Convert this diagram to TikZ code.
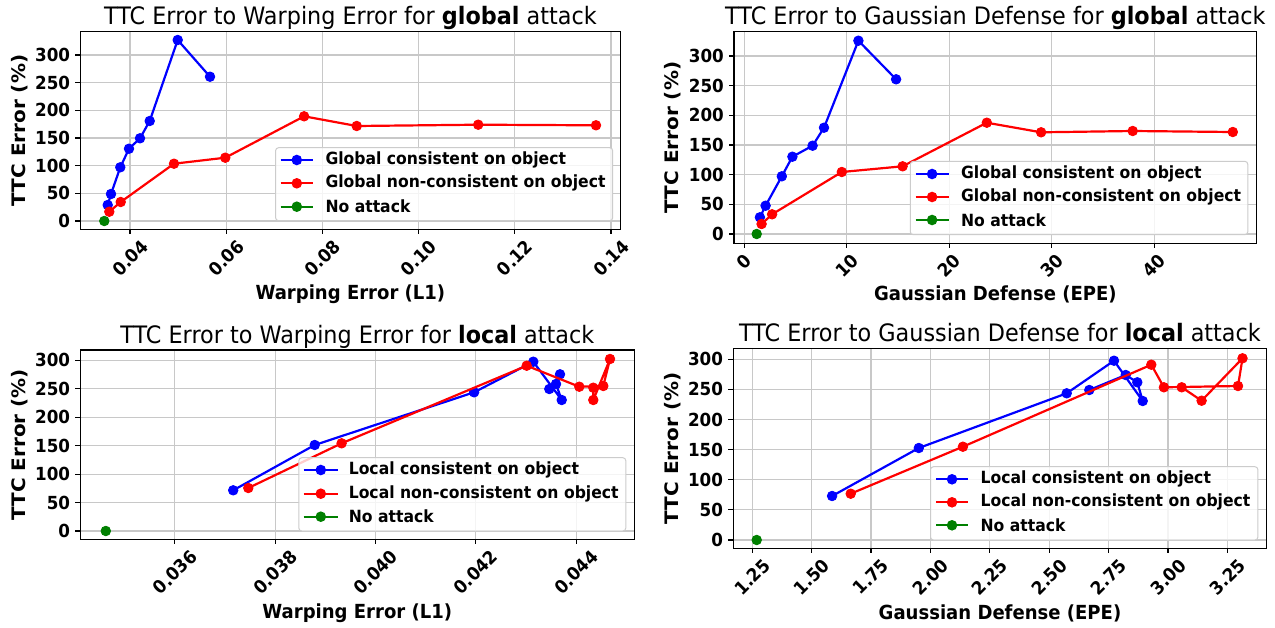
\documentclass[tikz,border=0pt]{standalone}
\usepackage{fontspec}
\setmainfont{DejaVu Sans}
\usepackage{graphicx}
\definecolor{gridc}{RGB}{200,200,200}
\definecolor{legc}{RGB}{204,204,204}
\definecolor{mblue}{RGB}{0,0,255}
\definecolor{mred}{RGB}{255,0,0}
\definecolor{mgreen}{RGB}{0,128,0}
\newcommand\hs[1]{\scalebox{0.93}[1]{#1}}
\tikzset{
  gridl/.style={draw=gridc, line width=1.1pt},
  spine/.style={draw=black, line width=1.2pt},
  tickl/.style={draw=black, line width=1.1pt},
  ser/.style={draw=#1, line width=2.2pt, line join=round, mark=*, mark size=4.8pt,
              mark options={fill=#1, draw=#1, line width=0.8pt, solid}},
  legl/.style={draw=#1, line width=2.2pt},
  legbox/.style={draw=legc, fill=white, fill opacity=0.8, rounded corners=3pt, line width=1pt},
  xtl/.style={anchor=north, inner sep=0pt, font=\fontsize{18}{20}\selectfont\bfseries},
  ytl/.style={anchor=east, inner sep=0pt, font=\fontsize{18}{20}\selectfont\bfseries},
  axlab/.style={inner sep=0pt, font=\fontsize{19.4}{22}\selectfont\bfseries},
  aylab/.style={inner sep=0pt, font=\fontsize{20}{22}\selectfont\bfseries},
  ttl/.style={anchor=base, inner sep=0pt, font=\fontsize{24}{28}\selectfont},
  legt/.style={anchor=west, inner sep=0pt, font=\fontsize{16.8}{19}\selectfont\bfseries},
}
\begin{document}
\begin{tikzpicture}[x=1pt,y=-1pt]
\useasboundingbox (0,0) rectangle (1275,627);
\fill[white] (0,0) rectangle (1275,627);

%================ Plot 1 (top left) ================
\foreach \x in {130.0,226.2,322.4,418.6,514.8,611.0} \draw[gridl] (\x,31.7) -- (\x,229.3);
\foreach \y in {221,193.33,165.67,138,110.33,82.67,55} \draw[gridl] (80.3,\y) -- (620.5,\y);
\draw[ser=mblue] plot coordinates {(107.7,205) (111,194) (120.3,167.3) (129,148.7) (140,138.3) (149.7,121) (177.7,40) (210,76.7)};
\draw[ser=mred] plot coordinates {(109.3,211.7) (120.7,202) (174,163.7) (225.3,157.7) (304.1,116.3) (356.7,126) (478.2,124.7) (596,125.3)};
\draw[ser=mgreen] plot coordinates {(104.3,221)};
\draw[legbox] (275.6,147.7) rectangle (612.7,220.7);
\draw[legl=mblue] (280.5,160) -- (313.1,160); \fill[mblue] (296.8,160) circle[radius=5.3pt];
\draw[legl=mred] (280.5,183.3) -- (313.1,183.3); \fill[mred] (296.8,183.3) circle[radius=5.3pt];
\draw[legl=mgreen] (280.5,206.7) -- (313.1,206.7); \fill[mgreen] (296.8,206.7) circle[radius=5.3pt];
\node[legt] (l1a) at (325.3,160) {\hs{Global consistent on object}};
\node[legt] (l1b) at (325.3,183.3) {\hs{Global non-consistent on object}};
\node[legt] (l1c) at (325.3,206.7) {\hs{No attack}};
\draw[spine] (80.3,31.7) rectangle (620.5,229.3);
\foreach \x/\l [count=\i] in {130.0/0.04,226.2/0.06,322.4/0.08,418.6/0.10,514.8/0.12,611.0/0.14}
  {\draw[tickl] (\x,229.3) -- (\x,234.3); \node[xtl] (p1x\i) at (\x,238.3) {\rotatebox{45}{\hs{\l}}};}
\foreach \y/\l [count=\i] in {221/0,193.33/50,165.67/100,138/150,110.33/200,82.67/250,55/300}
  {\draw[tickl] (80.3,\y) -- (75.3,\y); \node[ytl] (p1y\i) at (70.3,\y) {\hs{\l}};}
\node[ttl] (t1) at (350.4,24) {\hs{TTC Error to Warping Error for \textbf{global} attack}};
\node[axlab] (x1) at (350.4,294) {\hs{Warping Error (L1)}};
\node[aylab] (y1) at (19.6,130.5) {\rotatebox{90}{\scalebox{1}[0.93]{TTC Error (\%)}}};

%================ Plot 2 (top right) ================
\foreach \x in {744.1,846.6,949.1,1051.6,1154.1} \draw[gridl] (\x,31.7) -- (\x,243.3);
\foreach \y in {234,204.33,174.67,145,115.33,85.67,56} \draw[gridl] (734,\y) -- (1256.7,\y);
\draw[ser=mblue] plot coordinates {(759.9,217.3) (765.6,205.7) (781.8,176.3) (792.4,156.7) (812.6,145.7) (824,127.7) (858.4,40.7) (896.1,79.3)};
\draw[ser=mred] plot coordinates {(761.6,224) (772.1,214.3) (841.8,172) (902.6,166.3) (986.8,122.7) (1041.1,132.3) (1132.7,131) (1232.8,132)};
\draw[ser=mgreen] plot coordinates {(756.7,234)};
\draw[legbox] (910.3,161.3) rectangle (1247.8,234.7);
\draw[legl=mblue] (915.5,174) -- (948.8,174); \fill[mblue] (932.1,174) circle[radius=5.3pt];
\draw[legl=mred] (915.5,197) -- (948.8,197); \fill[mred] (932.1,197) circle[radius=5.3pt];
\draw[legl=mgreen] (915.5,220) -- (948.8,220); \fill[mgreen] (932.1,220) circle[radius=5.3pt];
\node[legt] (l2a) at (960.9,174) {\hs{Global consistent on object}};
\node[legt] (l2b) at (960.9,197) {\hs{Global non-consistent on object}};
\node[legt] (l2c) at (960.9,220) {\hs{No attack}};
\draw[spine] (734,31.7) rectangle (1256.7,243.3);
\foreach \x/\l [count=\i] in {744.1/0,846.6/10,949.1/20,1051.6/30,1154.1/40}
  {\draw[tickl] (\x,243.3) -- (\x,248.3); \node[xtl] (p2x\i) at (\x,252.3) {\rotatebox{45}{\hs{\l}}};}
\foreach \y/\l [count=\i] in {234/0,204.33/50,174.67/100,145/150,115.33/200,85.67/250,56/300}
  {\draw[tickl] (734,\y) -- (729,\y); \node[ytl] (p2y\i) at (724,\y) {\hs{\l}};}
\node[ttl] (t2) at (995.4,24) {\hs{TTC Error to Gaussian Defense for \textbf{global} attack}};
\node[axlab] (x2) at (995.4,294) {\hs{Gaussian Defense (EPE)}};
\node[aylab] (y2) at (672.4,137.5) {\rotatebox{90}{\scalebox{1}[0.93]{TTC Error (\%)}}};

%================ Plot 3 (bottom left) ================
\foreach \x in {174.9,275.2,375.5,475.8,576.1} \draw[gridl] (\x,350) -- (\x,539.3);
\foreach \y in {531,502.55,474.1,445.65,417.2,388.75,360.3} \draw[gridl] (80.3,\y) -- (634.3,\y);
\draw[ser=mblue] plot coordinates {(233.2,490.3) (314.7,445) (474.1,392.3) (533.3,361.7) (561.7,400) (556,384) (560,374.3) (549.3,389)};
\draw[ser=mred] plot coordinates {(248.3,488) (341.6,443.3) (526.7,365.7) (579.3,386.7) (603.3,386) (610,359) (593.3,400) (593.3,387.7)};
\draw[ser=mgreen] plot coordinates {(105.8,531)};
\draw[legbox] (298.8,457.7) rectangle (625.8,531);
\draw[legl=mblue] (303.7,470) -- (337.5,470); \fill[mblue] (320.8,470) circle[radius=5.3pt];
\draw[legl=mred] (303.7,493.7) -- (337.5,493.7); \fill[mred] (320.8,493.7) circle[radius=5.3pt];
\draw[legl=mgreen] (303.7,516.7) -- (337.5,516.7); \fill[mgreen] (320.8,516.7) circle[radius=5.3pt];
\node[legt] (l3a) at (348.6,470) {\hs{Local consistent on object}};
\node[legt] (l3b) at (348.6,493.7) {\hs{Local non-consistent on object}};
\node[legt] (l3c) at (348.6,516.7) {\hs{No attack}};
\draw[spine] (80.3,350) rectangle (634.3,539.3);
\foreach \x/\l [count=\i] in {174.9/0.036,275.2/0.038,375.5/0.040,475.8/0.042,576.1/0.044}
  {\draw[tickl] (\x,539.3) -- (\x,544.3); \node[xtl] (p3x\i) at (\x,548.3) {\rotatebox{45}{\hs{\l}}};}
\foreach \y/\l [count=\i] in {531/0,502.55/50,474.1/100,445.65/150,417.2/200,388.75/250,360.3/300}
  {\draw[tickl] (80.3,\y) -- (75.3,\y); \node[ytl] (p3y\i) at (70.3,\y) {\hs{\l}};}
\node[ttl] (t3) at (357.3,343.3) {\hs{TTC Error to Warping Error for \textbf{local} attack}};
\node[axlab] (x3) at (357.3,613.3) {\hs{Warping Error (L1)}};
\node[aylab] (y3) at (19.6,444.7) {\rotatebox{90}{\scalebox{1}[0.93]{TTC Error (\%)}}};

%================ Plot 4 (bottom right) ================
\foreach \x in {752.2,811.6,871.0,930.4,989.8,1049.2,1108.6,1168.0,1227.4} \draw[gridl] (\x,348.3) -- (\x,548.3);
\foreach \y in {540,509.88,479.76,449.64,419.52,389.4,359.3} \draw[gridl] (733.2,\y) -- (1266.8,\y);
\draw[ser=mblue] plot coordinates {(832.1,496) (918.8,448) (1066.7,393.3) (1114,360.7) (1142.7,401) (1137.3,382.3) (1125.7,375) (1089.3,390)};
\draw[ser=mred] plot coordinates {(850.7,493.7) (962.9,446.7) (1151.3,364.7) (1163.9,387.3) (1238,386) (1242.5,358.3) (1201.6,400.7) (1181.7,387.3)};
\draw[ser=mgreen] plot coordinates {(756.7,540)};
\draw[legbox] (930.5,466.7) rectangle (1257.9,540);
\draw[legl=mblue] (936.2,479.3) -- (968.2,479.3); \fill[mblue] (952,479.3) circle[radius=5.3pt];
\draw[legl=mred] (936.2,502.3) -- (968.2,502.3); \fill[mred] (952,502.3) circle[radius=5.3pt];
\draw[legl=mgreen] (936.2,525.3) -- (968.2,525.3); \fill[mgreen] (952,525.3) circle[radius=5.3pt];
\node[legt] (l4a) at (980.4,479.3) {\hs{Local consistent on object}};
\node[legt] (l4b) at (980.4,502.3) {\hs{Local non-consistent on object}};
\node[legt] (l4c) at (980.4,525.3) {\hs{No attack}};
\draw[spine] (733.2,348.3) rectangle (1266.8,548.3);
\foreach \x/\l [count=\i] in {752.2/1.25,811.6/1.50,871.0/1.75,930.4/2.00,989.8/2.25,1049.2/2.50,1108.6/2.75,1168.0/3.00,1227.4/3.25}
  {\draw[tickl] (\x,548.3) -- (\x,553.3); \node[xtl] (p4x\i) at (\x,557.3) {\rotatebox{45}{\hs{\l}}};}
\foreach \y/\l [count=\i] in {540/0,509.88/50,479.76/100,449.64/150,419.52/200,389.4/250,359.3/300}
  {\draw[tickl] (733.2,\y) -- (728.2,\y); \node[ytl] (p4y\i) at (723.2,\y) {\hs{\l}};}
\node[ttl] (t4) at (1000,341.7) {\hs{TTC Error to Gaussian Defense for \textbf{local} attack}};
\node[axlab] (x4) at (1000,613.3) {\hs{Gaussian Defense (EPE)}};
\node[aylab] (y4) at (672.8,448.3) {\rotatebox{90}{\scalebox{1}[0.93]{TTC Error (\%)}}};
\end{tikzpicture}
\end{document}
